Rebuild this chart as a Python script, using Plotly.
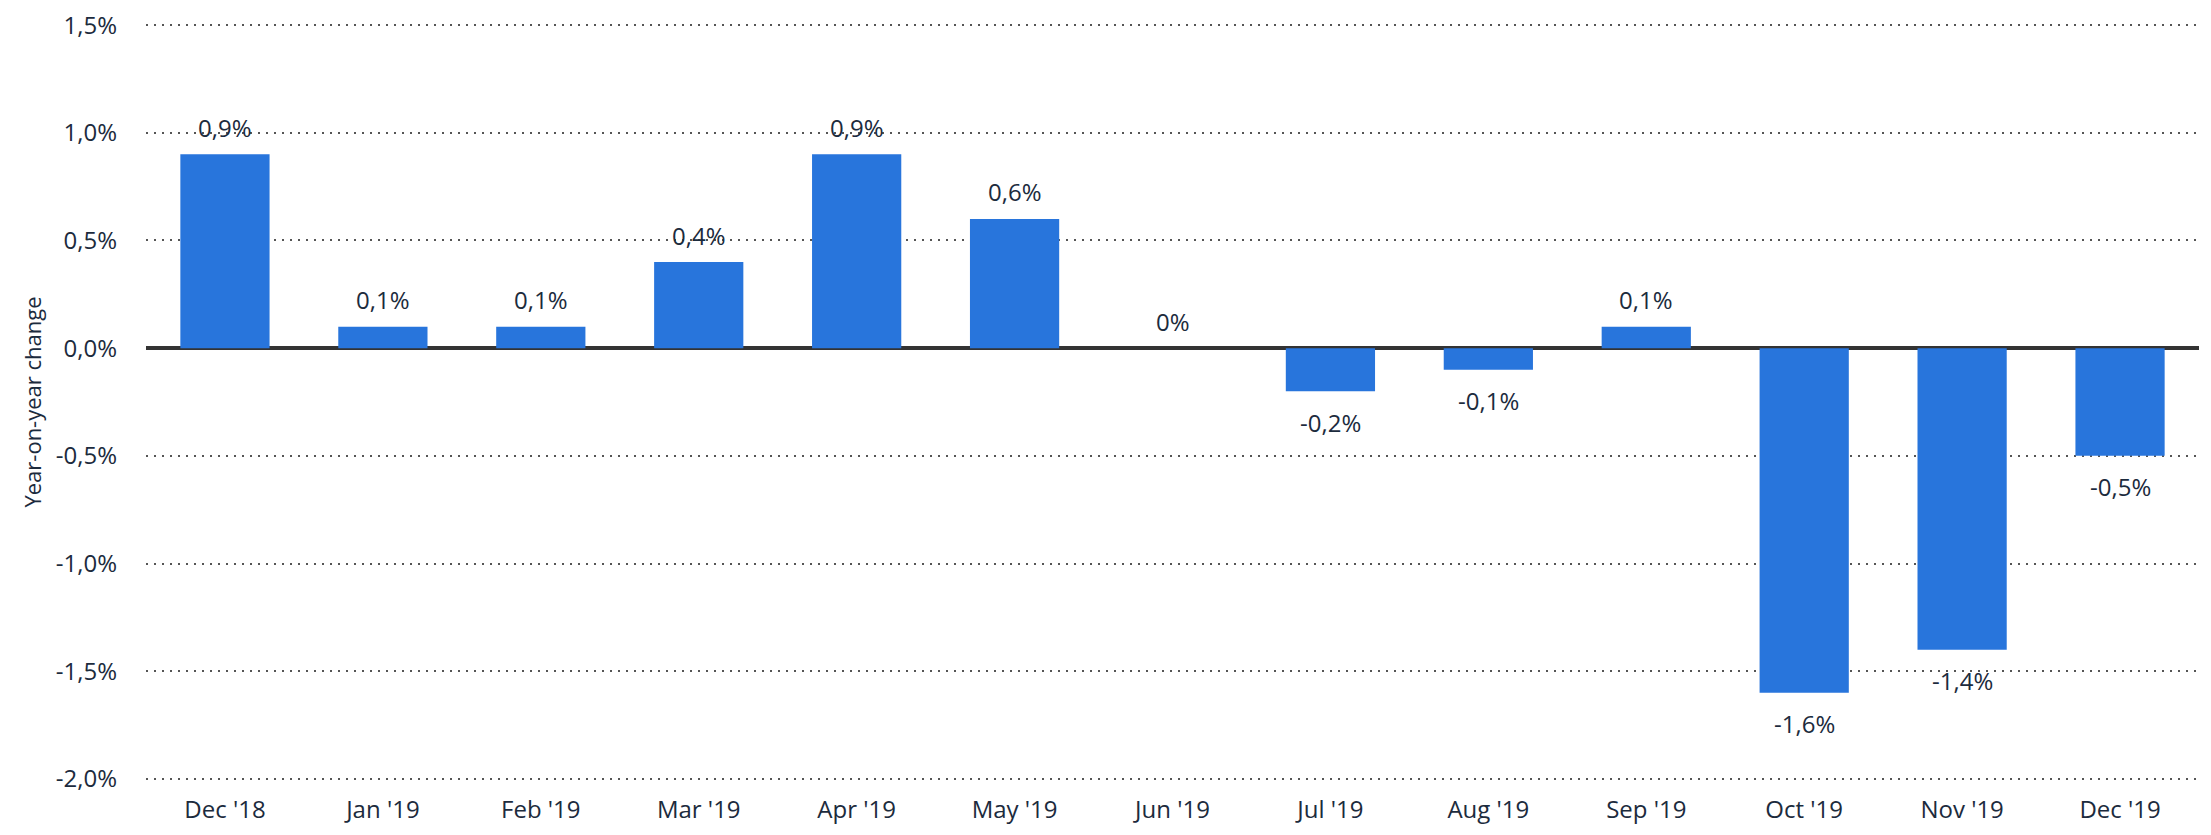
import plotly.graph_objects as go

months = ["Dec '18", "Jan '19", "Feb '19", "Mar '19", "Apr '19", "May '19", "Jun '19",
          "Jul '19", "Aug '19", "Sep '19", "Oct '19", "Nov '19", "Dec '19"]
change = [0.9, 0.1, 0.1, 0.4, 0.9, 0.6, 0.0, -0.2, -0.1, 0.1, -1.6, -1.4, -0.5]
y_ticks = [1.5, 1.0, 0.5, 0.0, -0.5, -1.0, -1.5, -2.0]


def fmt(v, dec=1):
    if v == 0 and dec == 1:
        return "0%"
    return f"{v:.{dec}f}".replace(".", ",") + "%"


labels = [fmt(v) for v in change]
tick_text = [fmt(v) if v != 0 else "0,0%" for v in y_ticks]

text_color = "#1c2b3d"
font = "Open Sans"

fig = go.Figure()
fig.add_trace(go.Bar(
    x=months, y=change,
    marker=dict(color="#2875dc", line=dict(width=0)),
    width=0.565,
))

# value labels above / below bars
for m, v, t in zip(months, change, labels):
    fig.add_annotation(
        x=m, y=v, text=t, showarrow=False,
        yanchor="middle", yshift=27 if v >= 0 else -31,
        font=dict(family=font, size=24, color=text_color),
    )

# page body has a default 8px margin, so the figure is 8px smaller
fig.update_layout(
    width=2203, height=827,
    margin=dict(l=138, r=12, t=15, b=54),
    plot_bgcolor="white", paper_bgcolor="white",
    showlegend=False,
    font=dict(family=font, color=text_color),
)
fig.update_xaxes(
    tickfont=dict(size=24, color=text_color),
    showgrid=False, showline=False, ticks="",
    ticklabelstandoff=12, automargin=False,
)
fig.update_yaxes(
    range=[-2.01, 1.51], tickvals=y_ticks, ticktext=tick_text,
    tickfont=dict(size=24, color=text_color),
    showgrid=True, gridcolor="#555555", gridwidth=1.5, griddash="2px,6px",
    zeroline=True, zerolinecolor="#333333", zerolinewidth=4,
    ticklabelstandoff=28, showline=False, automargin=False,
    ticklabeloverflow="allow",
    title=dict(text="Year-on-year change", font=dict(size=22, color=text_color), standoff=8),
)

fig.write_html("out.html")
